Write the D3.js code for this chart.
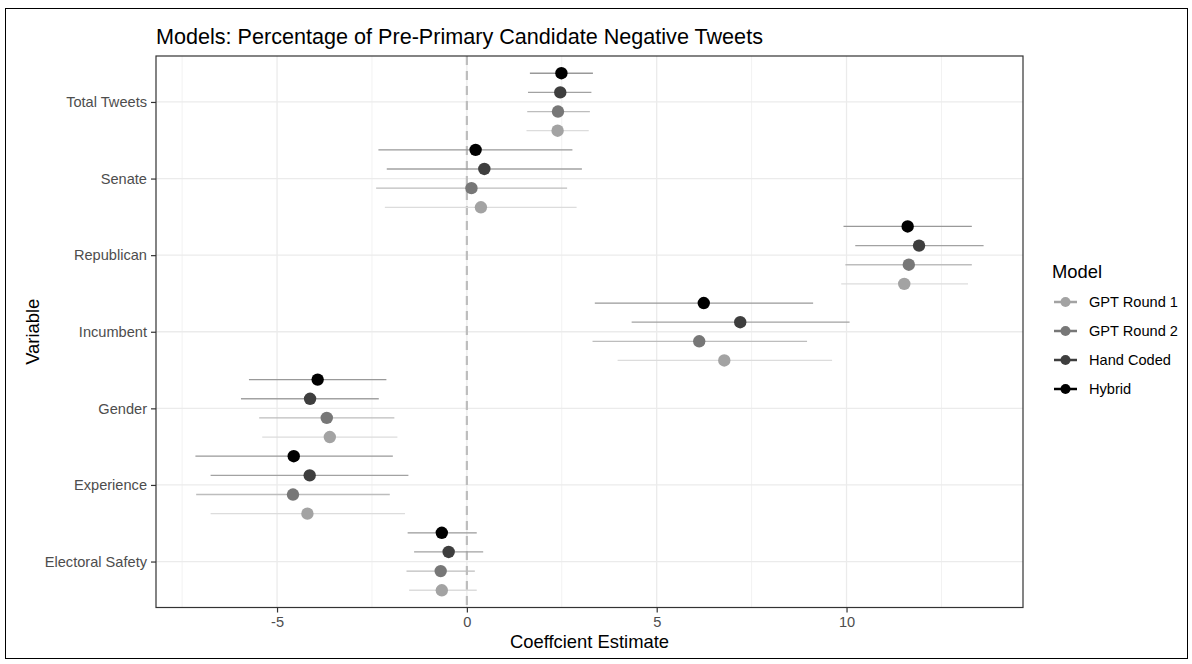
<!DOCTYPE html>
<html>
<head>
<meta charset="utf-8">
<script src="https://cdn.jsdelivr.net/npm/d3@7"></script>
<style>
  html, body { margin: 0; padding: 0; background: #fff; }
  svg { display: block; font-family: "Liberation Sans", Arial, Helvetica, sans-serif; }
</style>
</head>
<body>
<svg id="chart" width="1192" height="664"></svg>
<script>
// Regression variables, top to bottom
const categories = ["Total Tweets", "Senate", "Republican", "Incumbent", "Gender", "Experience", "Electoral Safety"];

// Model series (legend order)
const models = ["GPT Round 1", "GPT Round 2", "Hand Coded", "Hybrid"];

// Coefficient estimates per model, in category order
const gpt1Est   = [2.39, 0.37, 11.52, 6.78, -3.61, -4.20, -0.66];
const gpt1Low   = [1.57, -2.16, 9.86, 3.97, -5.39, -6.75, -1.52];
const gpt1High  = [3.21, 2.89, 13.20, 9.62, -1.83, -1.63, 0.26];

const gpt2Est   = [2.40, 0.12, 11.64, 6.12, -3.69, -4.58, -0.69];
const gpt2Low   = [1.59, -2.39, 9.97, 3.31, -5.47, -7.13, -1.59];
const gpt2High  = [3.24, 2.64, 13.30, 8.96, -1.91, -2.03, 0.21];

const handEst   = [2.46, 0.46, 11.91, 7.20, -4.13, -4.14, -0.48];
const handLow   = [1.61, -2.11, 10.23, 4.34, -5.95, -6.75, -1.39];
const handHigh  = [3.28, 3.03, 13.61, 10.08, -2.32, -1.54, 0.43];

const hybridEst  = [2.49, 0.23, 11.61, 6.24, -3.93, -4.56, -0.66];
const hybridLow  = [1.66, -2.33, 9.92, 3.37, -5.74, -7.15, -1.56];
const hybridHigh = [3.32, 2.78, 13.30, 9.12, -2.12, -1.95, 0.26];

// Axis ticks
const xMajorTicks = [-5, 0, 5, 10];
const xMinorTicks = [-7.5, -2.5, 2.5, 7.5, 12.5];

const seriesEst  = [gpt1Est, gpt2Est, handEst, hybridEst];
const seriesLow  = [gpt1Low, gpt2Low, handLow, hybridLow];
const seriesHigh = [gpt1High, gpt2High, handHigh, hybridHigh];

// Long-form rows for drawing
const rows = [];
models.forEach((m, mi) => {
  categories.forEach((c, ci) => {
    rows.push({ model: m, mi, category: c, ci,
      est: seriesEst[mi][ci], low: seriesLow[mi][ci], high: seriesHigh[mi][ci] });
  });
});

const pointColor = d3.scaleOrdinal().domain(models).range(["#a3a3a3", "#777777", "#3e3e3e", "#000000"]);
const lineColor  = d3.scaleOrdinal().domain(models).range(["#dcdcdc", "#bdbdbd", "#a2a2a2", "#999999"]);

const svg = d3.select("#chart");

// Figure frame
svg.append("rect")
  .attr("x", 5.5).attr("y", 8.5).attr("width", 1182).attr("height", 650)
  .attr("fill", "none").attr("stroke", "#000").attr("stroke-width", 1);

const panel = { left: 156, right: 1023, top: 56, bottom: 607.5 };

// x scale with 5% expansion on each side
const xmin = d3.min(rows, d => d.low), xmax = d3.max(rows, d => d.high);
const pad = (xmax - xmin) * 0.05;
const x = d3.scaleLinear().domain([xmin - pad, xmax + pad]).range([panel.left, panel.right]);

// y scale: category positions with 0.6 discrete expansion
const y = d3.scaleLinear().domain([-0.6, categories.length - 1 + 0.6]).range([panel.top, panel.bottom]);
// dodge within a category: GPT Round 1 lowest, Hybrid highest
const dodge = i => (1.5 - i) * 0.25;
const yPos = d => y(d.ci + dodge(d.mi));

const gGrid = svg.append("g");
// minor grid
gGrid.selectAll("line.minx").data(xMinorTicks).join("line")
  .attr("x1", d => x(d)).attr("x2", d => x(d))
  .attr("y1", panel.top).attr("y2", panel.bottom)
  .attr("stroke", "#f2f2f2").attr("stroke-width", 1);
// major grid
gGrid.selectAll("line.majx").data(xMajorTicks).join("line")
  .attr("x1", d => x(d)).attr("x2", d => x(d))
  .attr("y1", panel.top).attr("y2", panel.bottom)
  .attr("stroke", "#ebebeb").attr("stroke-width", 1.3);
gGrid.selectAll("line.majy").data(categories).join("line")
  .attr("x1", panel.left).attr("x2", panel.right)
  .attr("y1", (d, i) => y(i)).attr("y2", (d, i) => y(i))
  .attr("stroke", "#ebebeb").attr("stroke-width", 1.3);

// zero reference line
svg.append("line")
  .attr("x1", x(0)).attr("x2", x(0))
  .attr("y1", panel.top).attr("y2", panel.bottom)
  .attr("stroke", "#bdbdbd").attr("stroke-width", 2.2)
  .attr("stroke-dasharray", "9,6");

// error ranges
svg.append("g").selectAll("line").data(rows).join("line")
  .attr("x1", d => x(d.low)).attr("x2", d => x(d.high))
  .attr("y1", yPos).attr("y2", yPos)
  .attr("stroke", d => lineColor(d.model)).attr("stroke-width", 1.3);

// estimates
svg.append("g").selectAll("circle").data(rows).join("circle")
  .attr("cx", d => x(d.est)).attr("cy", yPos)
  .attr("r", 6.2).attr("fill", d => pointColor(d.model));

// panel border
svg.append("rect")
  .attr("x", panel.left).attr("y", panel.top)
  .attr("width", panel.right - panel.left).attr("height", panel.bottom - panel.top)
  .attr("fill", "none").attr("stroke", "#333").attr("stroke-width", 1.2);

// x axis
const xAxis = d3.axisBottom(x).tickValues(xMajorTicks).tickSize(5).tickPadding(4).tickFormat(d3.format("d"));
const gx = svg.append("g").attr("transform", `translate(0,${panel.bottom})`).call(xAxis);
gx.select(".domain").remove();
gx.selectAll(".tick line").attr("stroke", "#333").attr("stroke-width", 1.2);
gx.selectAll(".tick text").attr("fill", "#4d4d4d").style("font-size", "14.6px")
  .text(d => d < 0 ? "-" + Math.abs(d) : d);

// y axis
const yAxis = d3.axisLeft(y).tickValues(d3.range(categories.length)).tickSize(5).tickPadding(4)
  .tickFormat(i => categories[i]);
const gy = svg.append("g").attr("transform", `translate(${panel.left},0)`).call(yAxis);
gy.select(".domain").remove();
gy.selectAll(".tick line").attr("stroke", "#333").attr("stroke-width", 1.2);
gy.selectAll(".tick text").attr("fill", "#4d4d4d").style("font-size", "14.6px");

// titles
svg.append("text").attr("x", 156).attr("y", 44)
  .style("font-size", "21.6px").attr("fill", "#000")
  .text("Models: Percentage of Pre-Primary Candidate Negative Tweets");

svg.append("text").attr("x", (panel.left + panel.right) / 2).attr("y", 648)
  .attr("text-anchor", "middle").style("font-size", "18.4px").attr("fill", "#000")
  .text("Coeffcient Estimate");

svg.append("text")
  .attr("transform", `translate(39,${(panel.top + panel.bottom) / 2}) rotate(-90)`)
  .attr("text-anchor", "middle").style("font-size", "18.4px").attr("fill", "#000")
  .text("Variable");

// legend
const legend = svg.append("g").attr("transform", "translate(1052,0)");
legend.append("text").attr("x", 0).attr("y", 278)
  .style("font-size", "18.4px").attr("fill", "#000").text("Model");
const items = legend.selectAll("g.item").data(models).join("g")
  .attr("transform", (d, i) => `translate(0,${302 + i * 29})`);
items.append("line").attr("x1", 2).attr("x2", 25).attr("y1", 0).attr("y2", 0)
  .attr("stroke", d => pointColor(d)).attr("stroke-width", 2.5);
items.append("circle").attr("cx", 13.5).attr("cy", 0).attr("r", 5)
  .attr("fill", d => pointColor(d));
items.append("text").attr("x", 37).attr("y", 0).attr("dy", "0.35em")
  .style("font-size", "14.6px").attr("fill", "#000").text(d => d);
</script>
</body>
</html>
